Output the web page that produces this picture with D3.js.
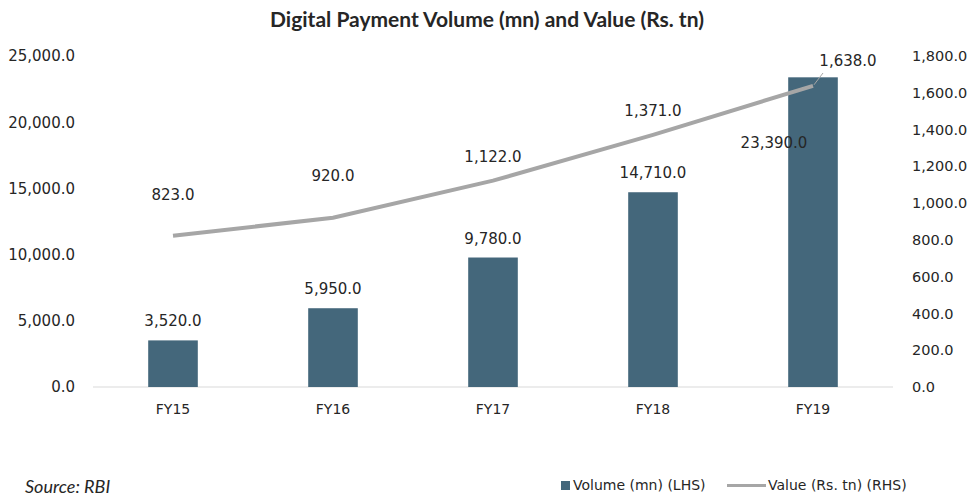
<!DOCTYPE html>
<html>
<head>
<meta charset="utf-8">
<script src="https://cdn.jsdelivr.net/npm/d3@7"></script>
<style>
  body { margin: 0; background: #fff; }
  text { font-family: "DejaVu Sans", sans-serif; fill: #262626; }
</style>
</head>
<body>
<svg width="973" height="497"></svg>
<script>
var years = ["FY15", "FY16", "FY17", "FY18", "FY19"];
var volume = [3520, 5950, 9780, 14710, 23390];
var value = [823, 920, 1122, 1371, 1638];
var leftTicks = [0, 5000, 10000, 15000, 20000, 25000];
var rightTicks = [0, 200, 400, 600, 800, 1000, 1200, 1400, 1600, 1800];

function main() {
  var svg = d3.select("svg"),
      left = 93, right = 893, plotTop = 56, bottom = 387;

  var fmt = d3.format(",.1f");

  var x = d3.scaleBand().domain(years).range([left, right]).paddingInner(0.69).paddingOuter(0.345),
      yL = d3.scaleLinear().domain([0, 25000]).range([bottom, plotTop]),
      yR = d3.scaleLinear().domain([0, 1800]).range([bottom, plotTop]);

  svg.append("text")
     .attr("x", 487).attr("y", 27)
     .attr("text-anchor", "middle")
     .attr("font-size", "21px").attr("font-weight", "bold")
     .style("font-family", "Lato, sans-serif")
     .text("Digital Payment Volume (mn) and Value (Rs. tn)");

  // axes
  var gl = svg.append("g").attr("transform", "translate(" + left + ",0)")
     .call(d3.axisLeft(yL).tickValues(leftTicks).tickFormat(fmt).tickSize(0).tickPadding(18));
  var gr = svg.append("g").attr("transform", "translate(" + right + ",0)")
     .call(d3.axisRight(yR).tickValues(rightTicks).tickFormat(fmt).tickSize(0).tickPadding(19));
  var gx = svg.append("g").attr("transform", "translate(0," + bottom + ")")
     .call(d3.axisBottom(x).tickSize(0).tickPadding(17));
  [gl, gr, gx].forEach(function(g) {
    g.select(".domain").remove();
    g.selectAll("text").attr("font-size", "14px").attr("fill", "#262626")
     .style("font-family", "'DejaVu Sans', sans-serif");
  });
  gl.selectAll("text").attr("font-size", "15px");
  gr.selectAll("text").attr("font-size", "14.5px");

  svg.append("line")
     .attr("x1", left).attr("x2", right)
     .attr("y1", bottom).attr("y2", bottom)
     .attr("stroke", "#d9d9d9").attr("stroke-width", 1);

  // bars
  svg.selectAll(".bar")
     .data(volume)
     .enter().append("rect")
     .attr("class", "bar")
     .attr("x", function(d, i) { return x(years[i]); })
     .attr("y", function(d) { return yL(d); })
     .attr("width", x.bandwidth())
     .attr("height", function(d) { return bottom - yL(d); })
     .attr("fill", "#44677b");

  // line
  var line = d3.line()
     .x(function(d, i) { return x(years[i]) + x.bandwidth() / 2; })
     .y(function(d) { return yR(d); });

  svg.append("path")
     .datum(value)
     .attr("d", line)
     .attr("fill", "none")
     .attr("stroke", "#a6a6a6")
     .attr("stroke-width", 4);

  // bar labels
  svg.selectAll(".vlab")
     .data(volume)
     .enter().append("text")
     .attr("x", function(d, i) { return x(years[i]) + x.bandwidth() / 2 + (i == 4 ? -39 : 0); })
     .attr("y", function(d, i) { return i == 4 ? 148 : yL(d) - 14; })
     .attr("text-anchor", "middle")
     .attr("font-size", "15px")
     .text(fmt);

  // line labels
  var lineOff = [-36, -37, -19, -19, 0];
  svg.selectAll(".llab")
     .data(value)
     .enter().append("text")
     .attr("x", function(d, i) { return x(years[i]) + x.bandwidth() / 2 + (i == 4 ? 35 : 0); })
     .attr("y", function(d, i) { return i == 4 ? 66 : yR(d) + lineOff[i]; })
     .attr("text-anchor", "middle")
     .attr("font-size", "15px")
     .text(fmt);

  // leader line for last value label
  svg.append("line")
     .attr("x1", x("FY19") + x.bandwidth() / 2 + 1).attr("y1", yR(value[4]) - 1)
     .attr("x2", x("FY19") + x.bandwidth() / 2 + 10).attr("y2", 73)
     .attr("stroke", "#a6a6a6").attr("stroke-width", 1);

  // legend
  var lg = svg.append("g");
  lg.append("rect").attr("x", 561).attr("y", 481).attr("width", 9).attr("height", 9).attr("fill", "#44677b");
  lg.append("text").attr("x", 573).attr("y", 490).attr("font-size", "14px").text("Volume (mn) (LHS)");
  lg.append("line").attr("x1", 727).attr("x2", 766).attr("y1", 485.5).attr("y2", 485.5)
    .attr("stroke", "#a6a6a6").attr("stroke-width", 3);
  lg.append("text").attr("x", 768).attr("y", 490).attr("font-size", "14px").text("Value (Rs. tn) (RHS)");

  svg.append("text")
     .attr("x", 25).attr("y", 493)
     .attr("font-size", "18px").attr("font-style", "italic")
     .style("font-family", "Lato, sans-serif")
     .text("Source: RBI");
}
main();
</script>
</body>
</html>
